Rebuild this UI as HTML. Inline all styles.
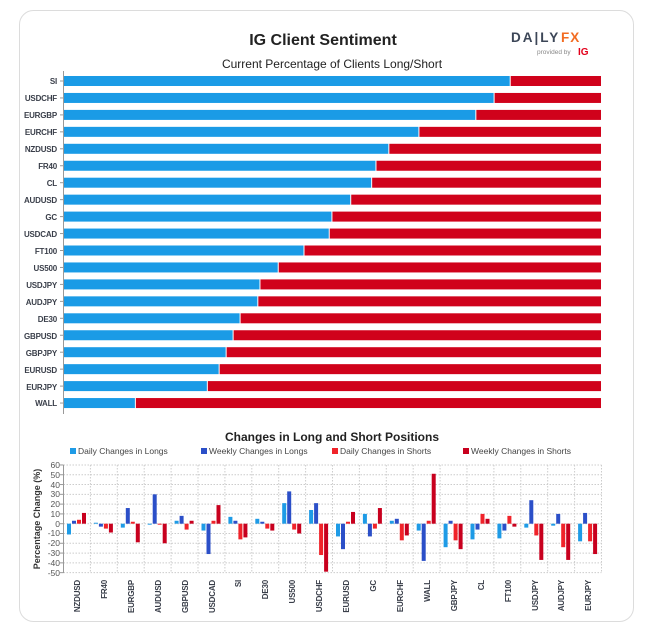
<!DOCTYPE html>
<html><head><meta charset="utf-8"><style>
html,body{margin:0;padding:0;background:#fff;}
svg{display:block;font-family:"Liberation Sans",sans-serif;}
.yl{font-size:8px;font-weight:bold;fill:#3a3f4a;text-anchor:end;letter-spacing:-0.2px;}
.xl{font-size:8px;font-weight:bold;fill:#3a3f4a;text-anchor:end;letter-spacing:-0.2px;}
.tk{font-size:8.5px;fill:#555;text-anchor:end;}
.lg{font-size:8.5px;fill:#444;}
</style></head><body>
<svg width="646" height="629" viewBox="0 0 646 629">
<rect x="19.5" y="10.5" width="614" height="611" rx="14" fill="#fff" stroke="#dcdcdc"/>
<text x="323" y="45" text-anchor="middle" font-size="16" font-weight="bold" fill="#222">IG Client Sentiment</text>
<text x="332" y="68" text-anchor="middle" font-size="12" fill="#222">Current Percentage of Clients Long/Short</text>
<text x="511" y="42" font-size="13.5" font-weight="bold" fill="#3c4657" letter-spacing="2">DA|LY</text>
<text x="561" y="42" font-size="13.5" font-weight="bold" fill="#f26b21" letter-spacing="1">FX</text>
<text x="537" y="54" font-size="6.5" fill="#888">provided by</text>
<text x="578" y="55" font-size="10" font-weight="bold" fill="#e3001b">IG</text>
<line x1="63.5" y1="71" x2="63.5" y2="414" stroke="#999"/>
<g id="top"></g>
<g>
<text class="yl" x="57" y="84">SI</text>
<text class="yl" x="57" y="101">USDCHF</text>
<text class="yl" x="57" y="118">EURGBP</text>
<text class="yl" x="57" y="135">EURCHF</text>
<text class="yl" x="57" y="152">NZDUSD</text>
<text class="yl" x="57" y="169">FR40</text>
<text class="yl" x="57" y="186">CL</text>
<text class="yl" x="57" y="203">AUDUSD</text>
<text class="yl" x="57" y="220">GC</text>
<text class="yl" x="57" y="237">USDCAD</text>
<text class="yl" x="57" y="254">FT100</text>
<text class="yl" x="57" y="271">US500</text>
<text class="yl" x="57" y="288">USDJPY</text>
<text class="yl" x="57" y="305">AUDJPY</text>
<text class="yl" x="57" y="322">DE30</text>
<text class="yl" x="57" y="339">GBPUSD</text>
<text class="yl" x="57" y="356">GBPJPY</text>
<text class="yl" x="57" y="373">EURUSD</text>
<text class="yl" x="57" y="390">EURJPY</text>
<text class="yl" x="57" y="406">WALL</text>
</g>
<text x="332" y="441" text-anchor="middle" font-size="12" font-weight="bold" fill="#222">Changes in Long and Short Positions</text>
<rect x="70" y="448" width="6" height="6" fill="#1e9be6"/><text class="lg" x="78" y="454">Daily Changes in Longs</text>
<rect x="201" y="448" width="6" height="6" fill="#2b4fc8"/><text class="lg" x="209" y="454">Weekly Changes in Longs</text>
<rect x="332" y="448" width="6" height="6" fill="#f0232a"/><text class="lg" x="340" y="454">Daily Changes in Shorts</text>
<rect x="463" y="448" width="6" height="6" fill="#c8001e"/><text class="lg" x="471" y="454">Weekly Changes in Shorts</text>
<g id="grid"></g>
<g>
<text class="tk" x="60" y="468">60</text><text class="tk" x="60" y="478">50</text><text class="tk" x="60" y="488">40</text><text class="tk" x="60" y="497">30</text><text class="tk" x="60" y="507">20</text><text class="tk" x="60" y="517">10</text><text class="tk" x="60" y="527">0</text><text class="tk" x="60" y="536">-10</text><text class="tk" x="60" y="546">-20</text><text class="tk" x="60" y="556">-30</text><text class="tk" x="60" y="566">-40</text><text class="tk" x="60" y="576">-50</text>
</g>
<text transform="translate(40,519) rotate(-90)" text-anchor="middle" font-size="9" font-weight="bold" fill="#333">Percentage Change (%)</text>
<g id="bars"></g>
<g>
<text class="xl" transform="translate(80,580) rotate(-90)">NZDUSD</text>
<text class="xl" transform="translate(107,580) rotate(-90)">FR40</text>
<text class="xl" transform="translate(134,580) rotate(-90)">EURGBP</text>
<text class="xl" transform="translate(161,580) rotate(-90)">AUDUSD</text>
<text class="xl" transform="translate(188,580) rotate(-90)">GBPUSD</text>
<text class="xl" transform="translate(215,580) rotate(-90)">USDCAD</text>
<text class="xl" transform="translate(241,580) rotate(-90)">SI</text>
<text class="xl" transform="translate(268,580) rotate(-90)">DE30</text>
<text class="xl" transform="translate(295,580) rotate(-90)">US500</text>
<text class="xl" transform="translate(322,580) rotate(-90)">USDCHF</text>
<text class="xl" transform="translate(349,580) rotate(-90)">EURUSD</text>
<text class="xl" transform="translate(376,580) rotate(-90)">GC</text>
<text class="xl" transform="translate(403,580) rotate(-90)">EURCHF</text>
<text class="xl" transform="translate(430,580) rotate(-90)">WALL</text>
<text class="xl" transform="translate(457,580) rotate(-90)">GBPJPY</text>
<text class="xl" transform="translate(484,580) rotate(-90)">CL</text>
<text class="xl" transform="translate(511,580) rotate(-90)">FT100</text>
<text class="xl" transform="translate(538,580) rotate(-90)">USDJPY</text>
<text class="xl" transform="translate(564,580) rotate(-90)">AUDJPY</text>
<text class="xl" transform="translate(591,580) rotate(-90)">EURJPY</text>
</g>
</svg>
<script>
var NS="http://www.w3.org/2000/svg";
function R(g,x,y,w,h,f){var r=document.createElementNS(NS,"rect");r.setAttribute("x",x);r.setAttribute("y",y);r.setAttribute("width",w);r.setAttribute("height",h);r.setAttribute("fill",f);document.getElementById(g).appendChild(r);}
function L(g,x1,y1,x2,y2,s,d){var l=document.createElementNS(NS,"line");l.setAttribute("x1",x1);l.setAttribute("y1",y1);l.setAttribute("x2",x2);l.setAttribute("y2",y2);l.setAttribute("stroke",s);if(d)l.setAttribute("stroke-dasharray",d);document.getElementById(g).appendChild(l);}
var longs=[.83,.80,.766,.66,.604,.58,.572,.533,.498,.493,.446,.398,.364,.36,.327,.314,.301,.288,.266,.132];
var x0=64,W=537;
longs.forEach(function(p,i){var cy=81+i*16.95;var w=W*p;R("top",x0,cy-5,w,10,"#1a9be6");R("top",x0+w+1,cy-5,W-w-1,10,"#d0021b");L("top",60,cy,63.5,cy,"#999");});
var px0=63.5,px1=601.5,zero=523.7,k=0.979;
for(var v=-50;v<=60;v+=10){var y=zero-v*k;L("grid",px0,y,px1,y,"#ccc","1.5,1.5");L("grid",60,y,63.5,y,"#999");}
var gw=(px1-px0)/20;
for(var i=0;i<=20;i++){var x=px0+i*gw;L("grid",x,465,x,573,"#ccc","1.5,1.5");}
L("grid",px0,465,px0,573,"#999");
var d=[[-11,3,4,11],[1,-3,-5,-9],[-4,16,2,-19],[-1,30,-1,-20],[3,8,-6,3],[-7,-31,3,19],[7,3,-16,-14],[5,2,-5,-7],[21,33,-6,-10],[14,21,-32,-49],[-13,-26,2,12],[10,-13,-5,16],[3,5,-17,-12],[-7,-38,3,51],[-24,3,-17,-26],[-16,-6,10,5],[-15,-7,8,-3],[-4,24,-12,-37],[-2,10,-24,-37],[-18,11,-18,-31]];
var cols=["#1e9be6","#2b4fc8","#f0232a","#c8001e"];
d.forEach(function(g,i){var gx=px0+i*gw+3.5;g.forEach(function(v,j){var h=Math.abs(v)*k;var y=v>=0?zero-h:zero;R("bars",gx+j*5,y,4,Math.max(h,0.8),cols[j]);});});
</script>
</body></html>
